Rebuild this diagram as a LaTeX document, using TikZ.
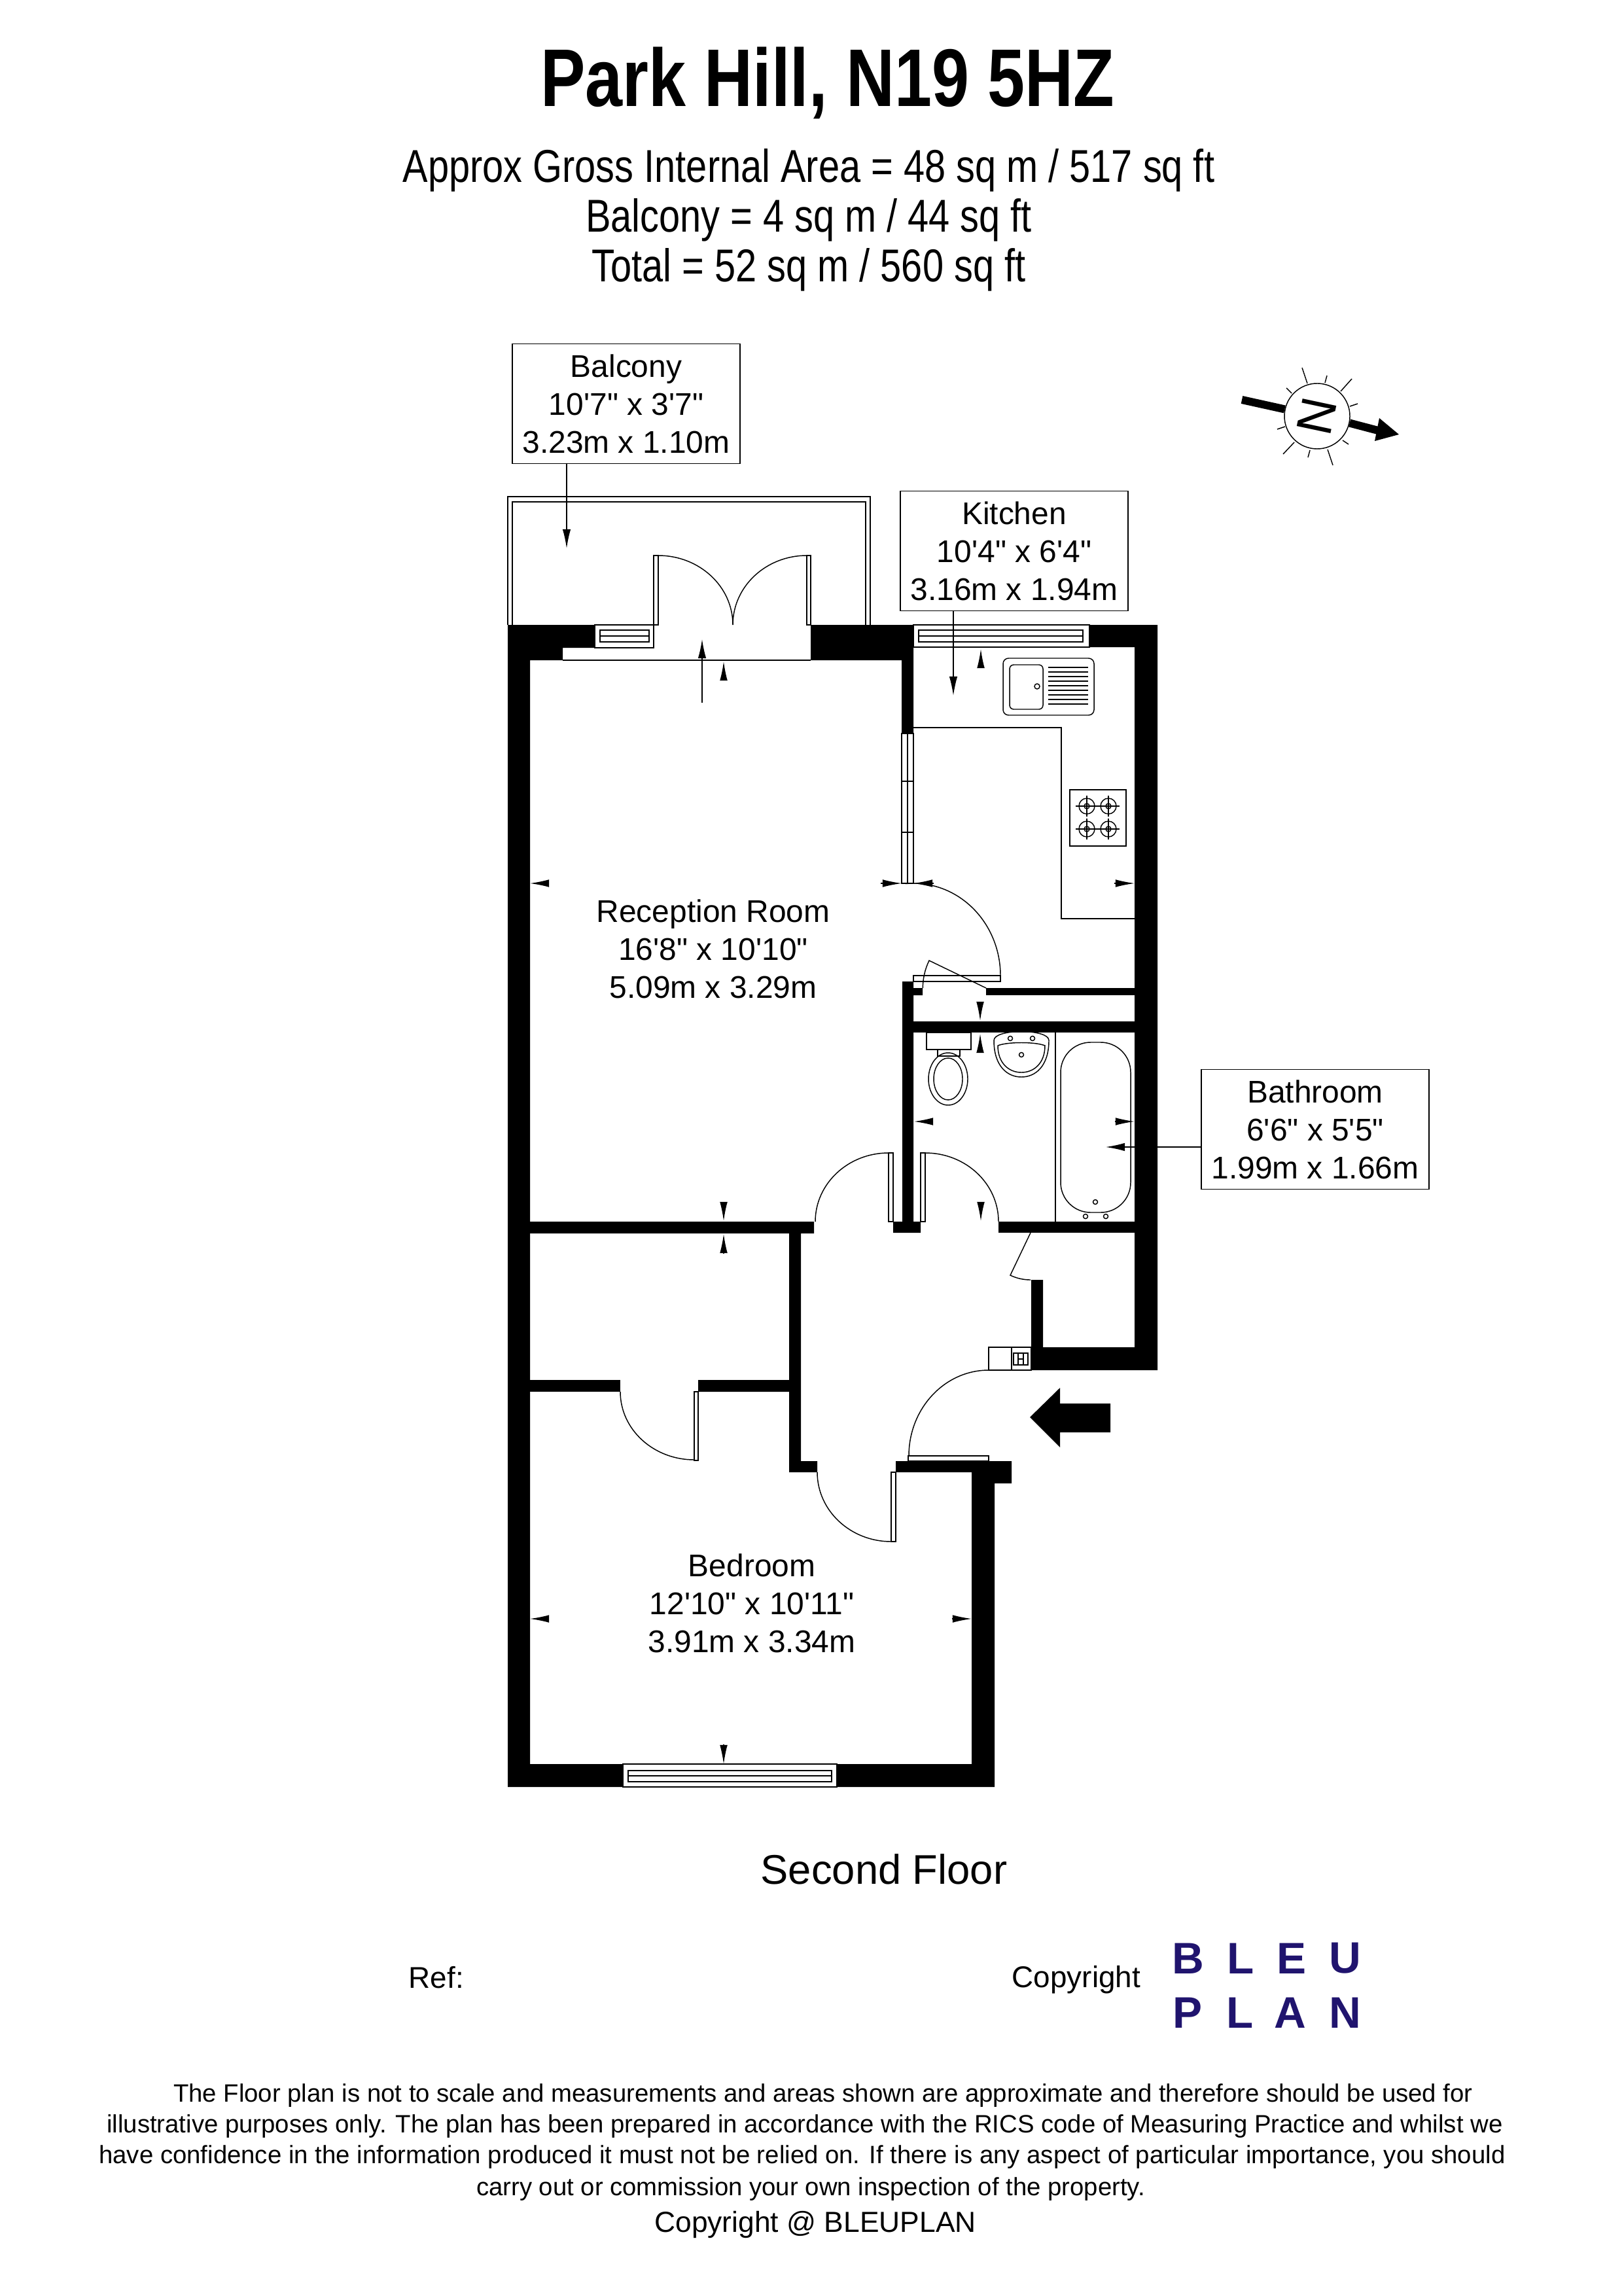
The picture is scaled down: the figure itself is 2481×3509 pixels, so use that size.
\documentclass[tikz,border=0pt]{standalone}
\usepackage{fontspec}
\usetikzlibrary{arrows.meta}
\newfontfamily\planfont{Liberation Sans}
\newfontfamily\titlefont[FakeStretch=0.82]{Liberation Sans}
\definecolor{logoblue}{RGB}{32,20,110}
\tikzset{
	wall/.style={fill=black,draw=none},
	fine/.style={line width=0.35pt},
	lead/.style={fine,-{Latex[length=7pt,width=3pt]}},
	dimtip/.style={fine,-{Latex[length=7pt,width=2.8pt]}},
	roomtext/.style={font=\planfont\fontsize{11.5}{13.9}\selectfont,align=center,inner sep=0pt},
	labelbox/.style={roomtext,draw,fine,minimum width=83.5pt,minimum height=44pt},
	smallprint/.style={font=\planfont\fontsize{9.2}{11}\selectfont,inner sep=0pt},
	logoletter/.style={font=\planfont\bfseries\fontsize{16.2}{17}\selectfont,text=logoblue,inner sep=0pt}
}
\begin{document}
\begin{tikzpicture}[>=latex,x=0.24pt,y=-0.24pt]
	\useasboundingbox (0,0) rectangle (2481,3509);

	\node[font=\titlefont\bfseries\fontsize{30}{32}\selectfont,inner sep=0pt] (title) at (1265,127) {Park Hill, N19 5HZ};
	\node[font=\titlefont\fontsize{16.9}{18.2}\selectfont,align=center,inner sep=0pt] (areas) at (1236,336) {Approx Gross Internal Area = 48 sq m / 517 sq ft\\Balcony = 4 sq m / 44 sq ft\\Total = 52 sq m / 560 sq ft};

	\draw[fine] (776,955)--(776,759)--(1330,759)--(1330,955);
	\draw[fine] (783,955)--(783,767)--(1323,767)--(1323,955);

	\fill[wall] (776,955)--(909,955)--(909,990)--(860,990)--(860,1009)--(810,1009)--(810,2696)--(952,2696)--(952,2731)--(776,2731)--cycle;
	\fill[wall] (1279,2696)--(1485,2696)--(1485,2250)--(1369,2250)--(1369,2233)--(1546,2233)--(1546,2267)--(1520,2267)--(1520,2731)--(1279,2731)--cycle;
	\fill[wall] (1239,955)--(1396,955)--(1396,1121)--(1378,1121)--(1378,1009)--(1239,1009)--cycle;
	\fill[wall] (1665,955)--(1769,955)--(1769,2094)--(1576,2094)--(1576,1956)--(1594,1956)--(1594,2059)--(1734,2059)--(1734,989)--(1665,989)--cycle;
	\fill[wall] (1507,1510) rectangle (1734,1521);
	\fill[wall] (1396,1561) rectangle (1734,1578);
	\fill[wall] (1526,1867) rectangle (1734,1884);
	\fill[wall] (1379,1500)--(1396,1500)--(1396,1510)--(1410,1510)--(1410,1521)--(1396,1521)--(1396,1867)--(1407,1867)--(1407,1884)--(1365,1884)--(1365,1867)--(1379,1867)--cycle;
	\fill[wall] (809,1867)--(1244,1867)--(1244,1885)--(1224,1885)--(1224,2233)--(1249,2233)--(1249,2250)--(1206,2250)--(1206,2127)--(1067,2127)--(1067,2109)--(1206,2109)--(1206,1885)--(809,1885)--cycle;
	\fill[wall] (809,2109) rectangle (948,2127);

	\draw[fine] (909,955) rectangle (999,990);
	\draw[fine] (917,963) rectangle (992,981);
	\draw[fine] (917,972)--(992,972);
	\draw[fine] (860,1009)--(1239,1009);
	\draw[fine] (999,849) rectangle (1006,955);
	\draw[fine] (1233,849) rectangle (1239,955);
	\draw[fine] (1006,849) arc[start angle=270,end angle=360,x radius=114,y radius=106];
	\draw[fine] (1233,849) arc[start angle=270,end angle=180,x radius=113,y radius=106];

	\draw[fine] (1396,955) rectangle (1665,989);
	\draw[fine] (1404,963) rectangle (1655,981);
	\draw[fine] (1404,972)--(1655,972);

	\draw[fine] (1378,1121) rectangle (1396,1350);
	\draw[fine] (1387,1121)--(1387,1350);
	\draw[fine] (1378,1194)--(1396,1194);
	\draw[fine] (1378,1272)--(1396,1272);

	\draw[fine] (1396,1491) rectangle (1529,1500);
	\draw[fine] (1529,1491) arc[start angle=0,end angle=-95,x radius=133,y radius=141];
	\draw[fine] (1507,1510)--(1420,1468) arc[start angle=205.8,end angle=180,radius=97];

	\draw[fine] (1358,1762) rectangle (1365,1867);
	\draw[fine] (1407,1762) rectangle (1414,1867);
	\draw[fine] (1358,1762) arc[start angle=270,end angle=180,x radius=112,y radius=105];
	\draw[fine] (1414,1762) arc[start angle=270,end angle=360,x radius=112,y radius=105];
	\draw[fine] (1575,1884)--(1544,1949) arc[start angle=115.5,end angle=90,radius=72];

	\draw[fine] (1511,2059) rectangle (1576,2094);
	\draw[fine] (1546,2059)--(1546,2094);
	\draw[fine] (1549,2068) rectangle (1571,2086);
	\draw[fine] (1556,2068)--(1556,2086);
	\draw[fine] (1564,2068)--(1564,2086);
	\draw[fine] (1556,2077)--(1564,2077);
	\draw[fine] (1511,2094) arc[start angle=270,end angle=180,x radius=122,y radius=131];
	\draw[fine] (1388,2225) rectangle (1511,2233);

	\draw[fine] (1362,2250) rectangle (1369,2356);
	\draw[fine] (1249,2250) arc[start angle=180,end angle=90,x radius=113,y radius=106];
	\draw[fine] (1061,2127) rectangle (1067,2232);
	\draw[fine] (948,2127) arc[start angle=180,end angle=90,x radius=113,y radius=104];

	\draw[fine] (952,2696) rectangle (1279,2731);
	\draw[fine] (960,2706) rectangle (1271,2723);
	\draw[fine] (960,2714)--(1271,2714);

	\draw[fine] (1396,1112)--(1622,1112)--(1622,1404)--(1734,1404);
	\draw[fine,rounded corners=2pt] (1533,1006) rectangle (1672,1093);
	\draw[fine,rounded corners=1.5pt] (1543,1016) rectangle (1594,1084);
	\draw[fine] (1585,1049) circle (4);
	\foreach \y in {1020,1027,1034,1041,1048,1055,1062,1069,1076}
		\draw[fine] (1602,\y)--(1663,\y);
	\draw[fine] (1635,1207) rectangle (1721,1293);
	\foreach \x in {1661,1694}
		\foreach \y in {1232,1267}{
			\draw[fine] (\x,\y) circle (12);
			\draw[fine] (\x,\y) circle (4);
			\draw[fine] (\x-17,\y)--(\x+17,\y);
			\draw[fine] (\x,\y-16)--(\x,\y+16);
		}

	\draw[fine] (1416,1578) rectangle (1484,1604);
	\draw[fine] (1433,1604) rectangle (1467,1614);
	\draw[fine] (1449,1649) ellipse [x radius=30,y radius=40];
	\draw[fine] (1449,1649) ellipse [x radius=22,y radius=32];
	\draw[fine] (1519,1590) .. controls (1519,1572) and (1603,1572) .. (1603,1590) .. controls (1603,1630) and (1582,1646) .. (1561,1646) .. controls (1540,1646) and (1519,1630) .. (1519,1590) -- cycle;
	\draw[fine] (1525,1598) .. controls (1540,1592) and (1582,1592) .. (1597,1598) .. controls (1597,1625) and (1580,1639) .. (1561,1639) .. controls (1542,1639) and (1525,1625) .. (1525,1598) -- cycle;
	\draw[fine] (1544,1587) circle (3.5);
	\draw[fine] (1578,1587) circle (3.5);
	\draw[fine] (1561,1612) circle (3.5);
	\draw[fine] (1613,1578)--(1613,1867);
	\draw[fine,rounded corners=11pt] (1621,1593) rectangle (1728,1853);
	\draw[fine] (1674,1837) circle (3.5);
	\draw[fine] (1659,1859) circle (3.5);
	\draw[fine] (1690,1859) circle (3.5);

	\draw[dimtip] (839,1350)--(810,1350);
	\draw[dimtip] (1346,1350)--(1378,1350);
	\draw[dimtip] (1427,1350)--(1396,1350);
	\draw[dimtip] (1703,1350)--(1734,1350);
	\draw[dimtip] (1106,1040)--(1106,1011);
	\draw[dimtip] (1499,1020)--(1499,992);
	\draw[dimtip] (1498,1531)--(1498,1560);
	\draw[dimtip] (1498,1609)--(1498,1580);
	\draw[dimtip] (1426,1714)--(1397,1714);
	\draw[dimtip] (1704,1714)--(1734,1714);
	\draw[dimtip] (1499,1837)--(1499,1866);
	\draw[dimtip] (1106,1837)--(1106,1866);
	\draw[dimtip] (1106,1916)--(1106,1886);
	\draw[dimtip] (839,2474)--(810,2474);
	\draw[dimtip] (1455,2474)--(1485,2474);
	\draw[dimtip] (1106,2666)--(1106,2696);

	\node[labelbox] (balconybox) at (957,617) {Balcony\\10'7" x 3'7"\\3.23m x 1.10m};
	\node[labelbox] (kitchenbox) at (1550,842) {Kitchen\\10'4" x 6'4"\\3.16m x 1.94m};
	\node[labelbox] (bathroombox) at (2010,1726) {Bathroom\\6'6" x 5'5"\\1.99m x 1.66m};
	\node[roomtext] (reception) at (1090,1450) {Reception Room\\16'8" x 10'10"\\5.09m x 3.29m};
	\node[roomtext] (bedroom) at (1149,2450) {Bedroom\\12'10" x 10'11"\\3.91m x 3.34m};

	\coordinate (balconytip) at (866,838);
	\coordinate (kitchentip) at (1457,1063);
	\coordinate (bathtip) at (1690,1753);
	\coordinate (receptionfoot) at (1073,1074);
	\coordinate (receptiontip) at (1073,977);
	\draw[lead] (balconybox.south -| balconytip)--(balconytip);
	\draw[lead] (kitchenbox.south -| kitchentip)--(kitchentip);
	\draw[lead] (bathroombox.west |- bathtip)--(bathtip);
	\draw[lead] (receptionfoot)--(receptiontip);

	\fill (1574,2166)--(1620,2121)--(1620,2145)--(1697,2145)--(1697,2189)--(1620,2189)--(1620,2212)--cycle;

	\node[circle,draw,fine,minimum size=24pt,inner sep=0pt,rotate=-102,font=\planfont\fontsize{18.4}{19}\selectfont] (compass) at (2013,636) {N};
	\foreach \a/\b/\c/\d in {1990/562/1998/586,2028/574/2025/585,2066/579/2049/598,2075/617/2063/621,2061/679/2052/673,2029/687/2037/711,2002/688/1999/699,1978/676/1961/694,1964/652/1952/656,1974/601/1966/593}
		\draw[fine] (\a,\b)--(\c,\d);
	\coordinate (compasstail) at (1898,611);
	\coordinate (compasshead) at (2110,659);
	\draw[line width=2.9pt] (compasstail)--(compass.south);
	\draw[line width=2.9pt] (compass.north)--(compasshead);
	\fill (2138,664)--(2108,639)--(2101,674)--cycle;

	\node[font=\planfont\fontsize{15.2}{16}\selectfont,inner sep=0pt] (floorname) at (1351,2857) {Second Floor};
	\node[font=\planfont\fontsize{11}{12}\selectfont,anchor=west,inner sep=0pt] (refmark) at (624,3022) {Ref:};
	\node[font=\planfont\fontsize{11}{12}\selectfont,anchor=west,inner sep=0pt] (copymark) at (1546,3026) {Copyright};
	\foreach \x/\l in {1816/B,1896/L,1974/E,2056/U}
		\node[logoletter] (logo\l) at (\x,2993) {\l};
	\foreach \x/\l in {1815/P,1895/L,1972/A,2056/N}
		\node[logoletter] (logotwo\l) at (\x,3076) {\l};

	\node[smallprint] (noteone) at (1258,3203) {The Floor plan is not to scale and measurements and areas shown are approximate and therefore should be used for};
	\node[smallprint] (notetwo) at (1230,3250) {illustrative purposes only. The plan has been prepared in accordance with the RICS code of Measuring Practice and whilst we};
	\node[smallprint] (notethree) at (1226,3297) {have confidence in the information produced it must not be relied on. If there is any aspect of particular importance, you should};
	\node[smallprint] (notefour) at (1239,3346) {carry out or commission your own inspection of the property.};
	\node[font=\planfont\fontsize{10.65}{12}\selectfont,inner sep=0pt] (notefive) at (1246,3400) {Copyright @ BLEUPLAN};
\end{tikzpicture}
\end{document}
